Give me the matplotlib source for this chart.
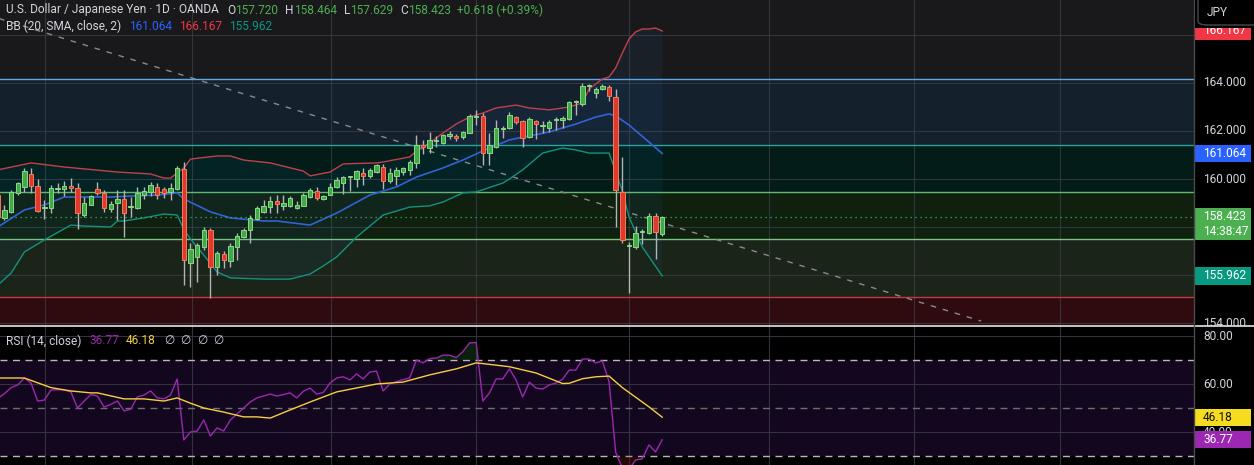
import matplotlib
matplotlib.use('Agg')
import matplotlib.pyplot as plt
import matplotlib.transforms as mtransforms
from matplotlib.patches import Polygon, Rectangle, FancyBboxPatch
from matplotlib.lines import Line2D
import numpy as np

plt.rcParams['font.family'] = ['Roboto', 'DejaVu Sans']

# USD/JPY daily candles
opens = [159.33, 158.38, 158.63, 159.42, 159.67, 160.21, 159.71, 158.80, 158.79, 159.60,
         159.60, 159.71, 159.63, 158.50, 158.92, 159.58, 159.42, 158.75, 159.00, 159.17,
         158.83, 158.79, 159.33, 159.46, 159.67, 159.58, 159.46, 159.58, 160.42, 156.50,
         156.75, 157.17, 157.88, 156.33, 156.88, 156.58, 157.17, 157.58, 157.88, 158.33,
         158.63, 158.83, 159.08, 158.88, 158.88, 158.79, 158.88, 159.25, 159.50, 159.17,
         159.33, 159.67, 159.83, 160.08, 160.00, 160.25, 160.13, 160.29, 160.50, 159.92,
         160.13, 160.29, 160.38, 160.67, 161.42, 161.29, 161.58, 161.50, 161.80, 161.79,
         161.75, 161.92, 162.60, 162.63, 161.08, 161.33, 162.10, 162.13, 162.58, 162.42,
         161.75, 162.42, 162.20, 162.13, 162.45, 162.46, 162.50, 163.20, 163.13, 163.86,
         163.58, 163.75, 163.83, 163.42, 159.46, 157.20, 157.17, 157.80, 157.75, 158.46,
         157.72]
highs = [159.50, 158.92, 159.54, 159.87, 160.46, 160.46, 160.00, 159.13, 159.75, 159.83,
         159.90, 160.04, 159.83, 159.25, 159.33, 159.87, 159.54, 159.10, 159.54, 159.54,
         159.25, 159.67, 159.67, 159.87, 159.83, 159.67, 159.83, 160.54, 160.71, 157.33,
         157.33, 158.00, 157.96, 157.00, 157.00, 157.33, 157.75, 157.96, 158.50, 158.88,
         159.13, 159.29, 159.33, 159.33, 159.29, 159.08, 159.42, 159.63, 159.67, 159.33,
         159.83, 160.08, 160.13, 160.13, 160.38, 160.46, 160.46, 160.63, 160.63, 160.46,
         160.50, 160.50, 160.79, 161.83, 161.63, 161.96, 161.79, 161.88, 162.00, 161.88,
         162.00, 162.71, 162.88, 162.75, 161.92, 162.46, 162.21, 162.79, 162.63, 162.46,
         162.58, 162.46, 162.42, 162.46, 162.58, 162.63, 163.25, 163.29, 164.00, 163.96,
         163.83, 163.96, 163.92, 163.75, 160.92, 157.38, 158.04, 157.92, 158.58, 158.58,
         158.464]
lows = [158.30, 158.29, 158.58, 159.33, 159.46, 159.42, 158.63, 158.33, 158.58, 159.42,
        159.30, 159.46, 157.92, 158.42, 158.90, 159.33, 158.63, 158.62, 158.29, 157.58,
        158.42, 158.75, 159.17, 159.29, 159.17, 159.21, 159.12, 159.54, 155.58, 155.50,
        155.71, 157.04, 155.04, 156.00, 156.29, 156.33, 156.63, 157.54, 157.33, 158.29,
        158.58, 158.58, 158.58, 158.70, 158.83, 158.75, 158.88, 159.21, 159.13, 159.13,
        159.33, 159.63, 159.38, 159.50, 159.67, 159.75, 160.04, 160.25, 159.58, 159.83,
        159.75, 160.17, 160.17, 160.46, 161.04, 161.08, 161.33, 161.46, 161.67, 161.58,
        161.67, 161.92, 162.25, 160.58, 160.58, 161.29, 161.71, 162.08, 162.29, 161.33,
        161.71, 161.67, 161.92, 161.96, 162.04, 162.13, 162.46, 162.67, 163.04, 163.67,
        163.38, 163.71, 163.25, 158.00, 157.33, 155.25, 157.08, 157.29, 157.71, 156.67,
        157.629]
closes = [158.42, 158.71, 159.46, 159.83, 160.33, 159.71, 158.67, 158.82, 159.63, 159.63,
          159.70, 159.63, 158.58, 159.00, 159.29, 159.42, 158.79, 158.96, 159.17, 158.58,
          158.85, 159.42, 159.50, 159.75, 159.33, 159.42, 159.63, 160.46, 156.63, 157.08,
          157.25, 157.88, 156.33, 156.92, 156.63, 157.21, 157.63, 157.88, 158.38, 158.79,
          158.88, 159.08, 158.96, 159.00, 159.21, 158.92, 159.33, 159.54, 159.21, 159.29,
          159.67, 159.96, 160.08, 160.10, 160.33, 160.13, 160.38, 160.58, 159.92, 160.25,
          160.38, 160.46, 160.71, 161.42, 161.33, 161.63, 161.60, 161.83, 161.88, 161.71,
          161.96, 162.63, 162.63, 161.08, 161.42, 162.13, 162.13, 162.67, 162.38, 161.71,
          162.50, 162.29, 162.21, 162.38, 162.46, 162.54, 163.21, 163.21, 163.88, 163.88,
          163.75, 163.88, 163.46, 159.54, 157.46, 157.21, 157.75, 157.81, 158.46, 157.81,
          158.423]

# Bollinger Bands (20, SMA, close, 2), read at the bends of each line
bb_upper_x = [0, 5, 10, 18, 23, 25, 26, 28, 29, 33, 35, 37, 41, 46, 47, 50, 52, 57, 58, 62,
              63, 65, 67, 69, 71, 73, 75, 78, 80, 83, 86, 88, 89, 91, 92, 93, 94, 95, 96, 97,
              98, 99, 100]
bb_upper = [160.38, 160.67, 160.50, 160.29, 160.21, 160.04, 160.04, 160.46, 160.83, 160.96,
            160.96, 160.79, 160.67, 160.33, 160.13, 160.29, 160.63, 160.67, 160.71, 160.92,
            161.17, 161.50, 161.92, 162.29, 162.58, 162.75, 162.96, 163.08, 162.96, 162.88,
            163.00, 163.17, 163.75, 164.17, 164.25, 164.63, 165.25, 165.83, 166.13, 166.25,
            166.25, 166.29, 166.167]
bb_mid_x = [0, 4, 7, 10, 13, 17, 20, 24, 27, 28, 32, 35, 40, 42, 47, 51, 56, 60, 63, 67,
            70, 73, 77, 83, 87, 90, 92, 93, 95, 98, 100]
bb_mid = [158.00, 158.71, 158.92, 159.25, 159.25, 159.25, 159.29, 159.33, 159.42, 159.17,
          158.63, 158.38, 158.25, 158.25, 158.08, 158.58, 159.33, 159.67, 160.08, 160.46,
          160.79, 161.17, 161.63, 161.96, 162.29, 162.58, 162.71, 162.63, 162.25, 161.54,
          161.064]
bb_lower_x = [0, 2, 4, 7, 11, 13, 17, 18, 19, 22, 25, 27, 28, 29, 31, 33, 35, 40, 44, 47,
              49, 51, 54, 58, 62, 65, 67, 70, 72, 76, 77, 79, 82, 85, 87, 89, 92, 93, 94, 95,
              97, 100]
bb_lower = [155.58, 156.08, 156.96, 157.46, 158.08, 158.04, 158.00, 158.25, 158.25, 158.38,
            158.54, 158.50, 157.90, 157.50, 156.83, 156.13, 155.88, 155.83, 155.83, 156.04,
            156.38, 156.75, 157.58, 158.50, 158.83, 158.88, 159.04, 159.42, 159.46, 159.83,
            160.00, 160.38, 161.08, 161.29, 161.21, 161.08, 161.08, 160.30, 159.50, 158.42,
            157.17, 155.962]

# RSI (14, close), one value per candle, and its moving average
rsi = [54.0, 56.0, 58.5, 59.6, 62.5, 60.4, 52.9, 53.3, 57.5, 57.6,
       57.5, 56.7, 50.0, 52.9, 55.6, 55.0, 50.4, 51.5, 52.9, 48.8,
       49.5, 54.6, 55.4, 57.1, 54.2, 53.8, 55.4, 62.1, 36.7, 40.0,
       40.4, 45.0, 38.3, 41.7, 40.4, 45.0, 47.5, 50.0, 52.5, 54.2,
       55.0, 55.8, 55.0, 55.6, 56.3, 54.2, 57.0, 58.3, 55.8, 56.5,
       60.4, 62.5, 63.0, 61.7, 64.2, 62.1, 65.0, 65.4, 57.1, 60.0,
       61.0, 61.8, 62.5, 70.0, 68.8, 70.6, 70.8, 72.0, 72.0, 71.0,
       73.5, 77.1, 77.3, 52.9, 56.3, 62.1, 62.1, 66.3, 61.7, 54.6,
       60.8, 58.3, 57.9, 59.6, 60.4, 62.0, 65.8, 65.8, 70.4, 70.4,
       68.8, 69.6, 61.0, 31.5, 25.0, 24.5, 28.3, 28.8, 34.6, 31.7,
       36.77]
rsi_ma_x = [0, 4, 8, 11, 14, 15, 19, 22, 25, 27, 29, 31, 34, 37, 39, 41, 44, 47, 51, 57,
            61, 65, 69, 72, 73, 77, 81, 85, 86, 88, 90, 92, 94, 96, 98, 100]
rsi_ma = [62.5, 62.5, 58.5, 57.1, 56.3, 56.3, 53.8, 53.8, 52.9, 54.2, 52.0, 50.0, 48.3, 46.3,
          46.3, 45.8, 49.2, 52.5, 56.7, 60.0, 60.8, 63.8, 66.3, 68.8, 68.5, 67.2, 64.6, 60.2,
          60.3, 62.2, 63.0, 63.3, 58.5, 54.5, 50.5, 46.18]

# drawn objects: horizontal zones and a falling trend line
zone_levels = [164.17, 161.42, 159.46, 157.50, 155.08]
trend_x = [0, 148]
trend_y = [166.70, 154.08]
month_marks = [7.1, 29.2, 50.1, 72.0, 95.0, 116.1, 137.9, 159.9]

W, H = 1254, 465
fig = plt.figure(figsize=(W / 100, H / 100), dpi=100, facecolor='#000000')
plot_w = 1194
ax = fig.add_axes([0, 140 / H, plot_w / W, 325 / H])
ax_r = fig.add_axes([0, 0, plot_w / W, 139 / H])

xlim = ((0 + 2.2) / 6.644, (plot_w + 2.2) / 6.644)

# ---------- price pane ----------
ax.set_facecolor('#19191b')
ax.set_xlim(*xlim)
ax.set_ylim(153.917, 167.458)
zone_fill = ['#15202d', '#031c18', '#10200f', '#1a2418', '#2f0a0f']
zone_line = ['#5fa8e8', '#26a69a', '#66bb6a', '#7bc47f', '#c2393f']
bottoms = zone_levels[1:] + [150]
for top, bot, fc, lc in zip(zone_levels, bottoms, zone_fill, zone_line):
    ax.axhspan(bot, top, color=fc, lw=0, zorder=0)
    ax.axhline(top, color=lc, lw=1, zorder=2)

for p in range(154, 168, 2):
    ax.axhline(p, color='#3a3d42', lw=0.8, alpha=0.8, zorder=1)
for m in month_marks:
    ax.axvline(m, color='#3a3d42', lw=0.8, alpha=0.8, zorder=1)

poly = np.vstack([np.column_stack([bb_upper_x, bb_upper]),
                  np.column_stack([bb_lower_x, bb_lower])[::-1]])
ax.add_patch(Polygon(poly, closed=True, facecolor='#2196f3', alpha=0.06, lw=0, zorder=2))

ax.plot(trend_x, trend_y, color='#8a8a8a', lw=1, dashes=(4, 5), zorder=3)
ax.plot(bb_upper_x, bb_upper, color='#c2404c', lw=1, zorder=3)
ax.plot(bb_mid_x, bb_mid, color='#2f63d6', lw=1.2, zorder=3)
ax.plot(bb_lower_x, bb_lower, color='#16917e', lw=1, zorder=3)
ax.axhline(closes[-1], color='#4caf50', lw=0.9, dashes=(1, 3), zorder=3)

o = np.array(opens); hi = np.array(highs); lo = np.array(lows); c = np.array(closes)
idx = np.arange(len(o))
up = c >= o
ax.vlines(idx, lo, hi, color='#b4b4b4', lw=1, zorder=4)
body = np.maximum(np.abs(c - o), 0.045)
base = np.minimum(o, c)
ax.bar(idx[up], body[up], bottom=base[up], width=0.66, color='#43a847',
       edgecolor='#86db86', lw=0.7, zorder=5)
ax.bar(idx[~up], body[~up], bottom=base[~up], width=0.66, color='#e23a2a',
       edgecolor='#f27a5e', lw=0.7, zorder=5)

# ---------- RSI pane ----------
ax_r.set_facecolor('#000000')
ax_r.set_xlim(*xlim)
ax_r.set_ylim(26.25, 26.25 + 139 / 2.4)
ax_r.axhspan(30, 70, color='#13071f', lw=0, zorder=0)
for g in (80, 60, 40):
    ax_r.axhline(g, color='#35323d', lw=0.8, zorder=1)
for m in month_marks:
    ax_r.axvline(m, color='#35323d', lw=0.8, zorder=1)
ax_r.axhline(70, color='#b8b8b8', lw=1, dashes=(5, 4), zorder=2)
ax_r.axhline(50, color='#6e6e6e', lw=1, dashes=(5, 4), zorder=2)
ax_r.axhline(30, color='#b8b8b8', lw=1, dashes=(5, 4), zorder=2)
r = np.array(rsi)
ax_r.fill_between(idx, r, 70, where=r > 70, interpolate=True, color='#1b5e20', alpha=0.35, lw=0, zorder=2)
ax_r.fill_between(idx, r, 30, where=r < 30, interpolate=True, color='#6a1c12', alpha=0.35, lw=0, zorder=2)
ax_r.plot(idx, r, color='#9c27b0', lw=1, zorder=3)
ax_r.plot(rsi_ma_x, rsi_ma, color='#f4d03f', lw=1, zorder=3)

for a in (ax, ax_r):
    a.set_xticks([]); a.set_yticks([])
    for s in a.spines.values():
        s.set_visible(False)

# ---------- right scale ----------
fs = 8.6
light = '#d1d4dc'
px = 1 / plot_w


def axis_label(a, val, text, color=light):
    tr = mtransforms.blended_transform_factory(a.transAxes, a.transData)
    a.text(1 + 9 * px, val, text, color=color, fontsize=fs, va='center', ha='left',
           transform=tr, clip_on=False, zorder=6)


def axis_box(a, val, text, fc, tc, h, center=None, two=None):
    tr = mtransforms.blended_transform_factory(a.transAxes, a.transData)
    cy = val if center is None else center
    a.add_patch(Rectangle((1 + 1 * px, cy - h / 2), 56 * px, h, transform=tr,
                          facecolor=fc, edgecolor='none', clip_on=False, zorder=7))
    a.text(1 + 9 * px, val, text, color=tc, fontsize=fs, va='center', ha='left',
           transform=tr, clip_on=False, zorder=8)
    if two is not None:
        a.text(1 + 9 * px, two[0], two[1], color=tc, fontsize=fs, va='center', ha='left',
               transform=tr, clip_on=False, zorder=8)


for v in (164, 162, 160, 154):
    axis_label(ax, v, f'{v:.3f}')
for v in (80, 60, 40):
    axis_label(ax_r, v, f'{v:.2f}')

axis_box(ax, bb_upper[-1], f'{bb_upper[-1]:.3f}', '#f23645', 'white', 0.72)
axis_box(ax, bb_mid[-1], f'{bb_mid[-1]:.3f}', '#2962ff', 'white', 0.72)
axis_box(ax, closes[-1], f'{closes[-1]:.3f}', '#4caf50', 'white', 1.35,
         center=closes[-1] - 0.31, two=(closes[-1] - 0.62, '14:38:47'))
axis_box(ax, bb_lower[-1], f'{bb_lower[-1]:.3f}', '#089981', 'white', 0.72)
axis_box(ax_r, rsi_ma[-1], f'{rsi_ma[-1]:.2f}', '#f5dc1e', '#111111', 7.2)
axis_box(ax_r, rsi[-1], f'{rsi[-1]:.2f}', '#9c27b0', 'white', 7.2)

# cover price labels spilling into the RSI pane, then separators
fig.add_artist(Rectangle((plot_w / W, 0), 1, 139 / H, transform=fig.transFigure,
                         facecolor='#000000', edgecolor='none', zorder=0.5))
ax_r.set_zorder(1)
fig.add_artist(Line2D([0, 1], [139.5 / H, 139.5 / H], transform=fig.transFigure,
                      color='#e6e6e6', lw=1.2, zorder=5))
fig.add_artist(Line2D([plot_w / W, plot_w / W], [0, 1], transform=fig.transFigure,
                      color='#4a4a4a', lw=1, zorder=5))

# JPY currency button
fig.add_artist(Rectangle((1195 / W, 1 - 28 / H), 60 / W, 28 / H, transform=fig.transFigure,
                         facecolor='#000000', edgecolor='none', zorder=6))
fig.add_artist(FancyBboxPatch((1198 / W, 1 - 25 / H), 70 / W, 34 / H, transform=fig.transFigure,
                              boxstyle='round,pad=0,rounding_size=0.008', facecolor='#000000',
                              edgecolor='#4a4a4a', lw=1, zorder=6))
fig.text(1207 / W, 1 - 13 / H, 'JPY', color=light, fontsize=fs, va='center', ha='left', zorder=7)

# ---------- legends ----------
renderer = fig.canvas.get_renderer()


def draw_parts(x_px, y_px, parts, size=8.6):
    x = x_px
    for text, color, gap in parts:
        t = fig.text(x / W, 1 - y_px / H, text, color=color, fontsize=size,
                     va='center', ha='left', zorder=8)
        x += t.get_window_extent(renderer).width + gap


green = '#4caf50'
draw_parts(6, 10, [('U.S. Dollar / Japanese Yen · 1D · OANDA', light, 8),
                   ('O', light, 0), ('157.720', green, 7),
                   ('H', light, 0), ('158.464', green, 7),
                   ('L', light, 0), ('157.629', green, 7),
                   ('C', light, 0), ('158.423', green, 6),
                   ('+0.618 (+0.39%)', green, 0)])
draw_parts(6, 26, [('BB (20, SMA, close, 2)', light, 8),
                   ('161.064', '#2962ff', 7), ('166.167', '#f23645', 7),
                   ('155.962', '#089981', 0)])
draw_parts(6, 341, [('RSI (14, close)', light, 8),
                    ('36.77', '#9c27b0', 7), ('46.18', '#f4d03f', 8),
                    ('∅', light, 6), ('∅', light, 6), ('∅', light, 6), ('∅', light, 0)])

fig.savefig('out.png', dpi=100, facecolor=fig.get_facecolor())
